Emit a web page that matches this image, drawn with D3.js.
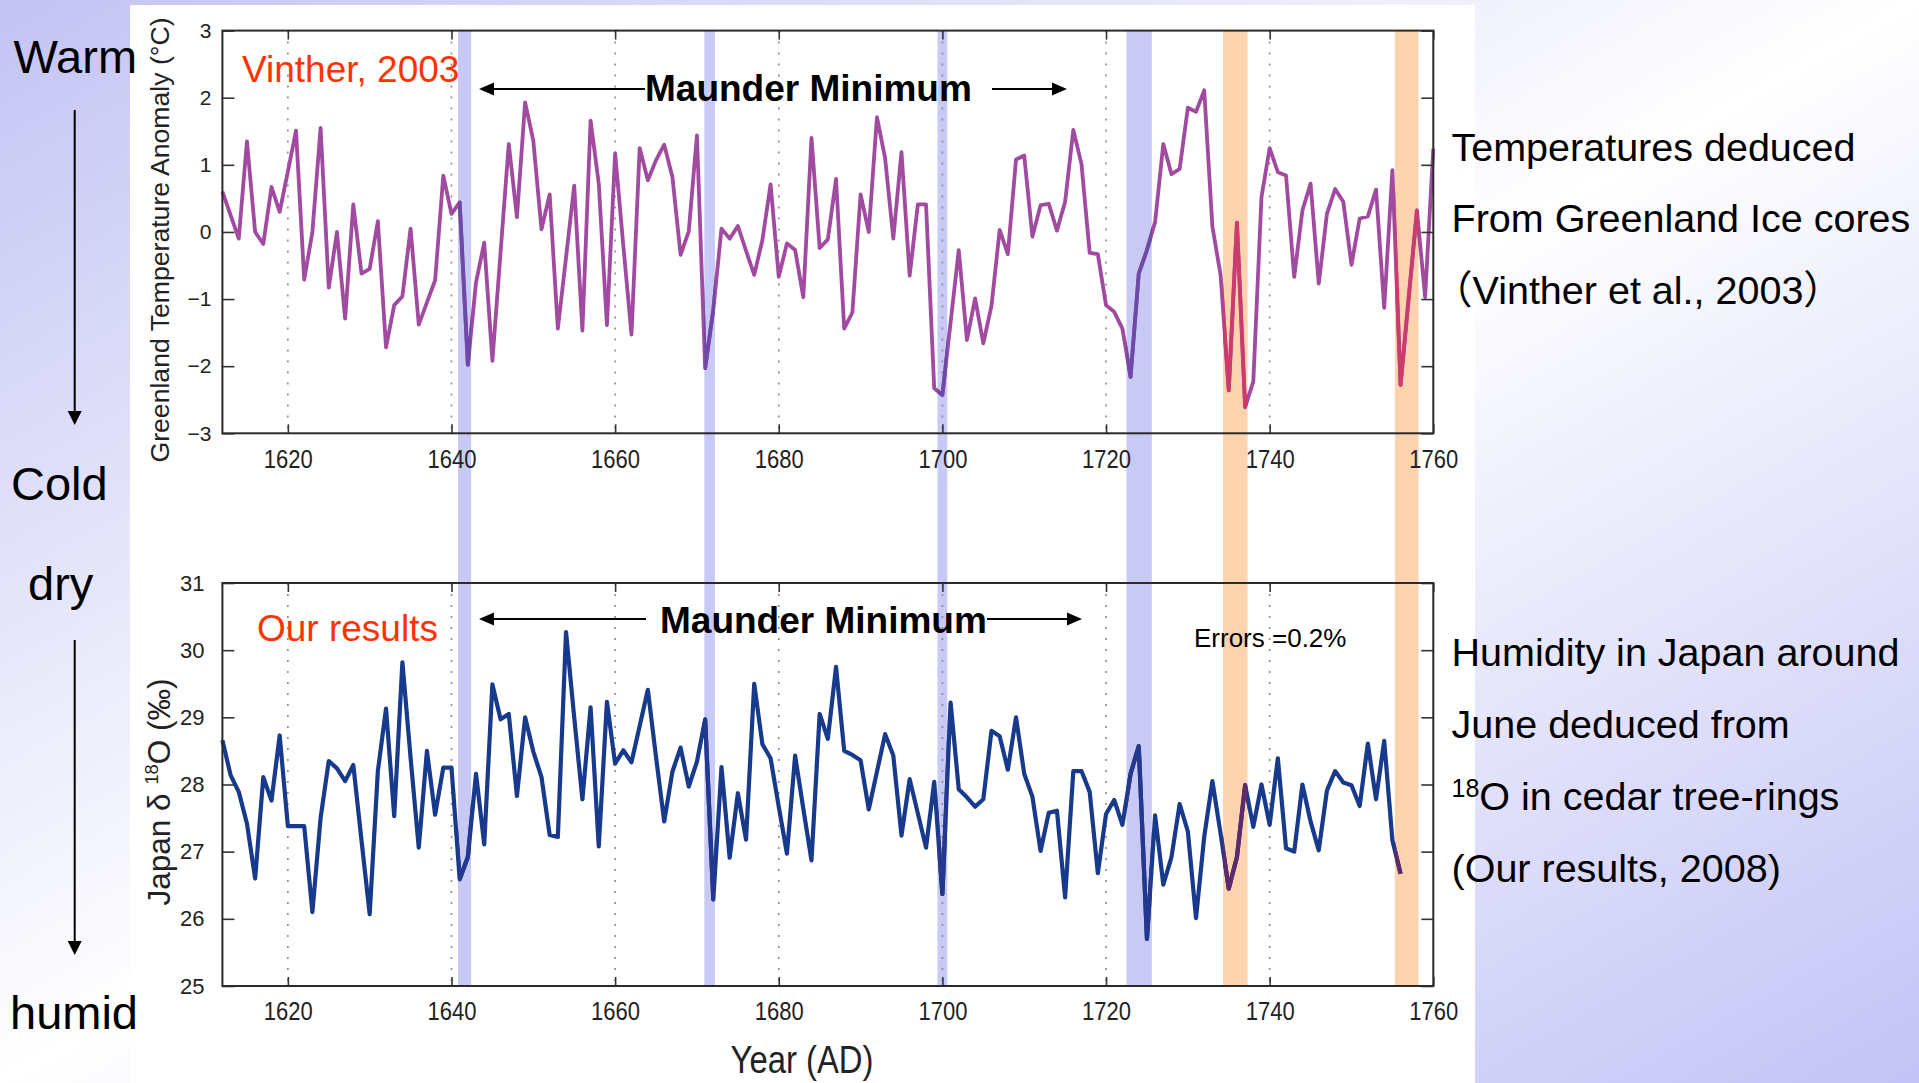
<!DOCTYPE html>
<html><head><meta charset="utf-8">
<script src="https://cdn.jsdelivr.net/npm/d3@7"></script>
<style>
html,body{margin:0;padding:0;background:#fff;overflow:hidden}
svg{display:block}
text{font-family:"Liberation Sans",Arial,"Noto Sans CJK JP",sans-serif}
</style></head><body>
<svg id="chart" width="1919" height="1083"></svg>
<script>
// ---------------- data ----------------
const tempStartYear = 1612;
const tempValues = [
 0.6, 0.25, -0.1, 1.35, 0.0, -0.18, 0.67, 0.3, 0.9, 1.51,
 -0.71, 0.0, 1.55, -0.83, 0.0, -1.29, 0.41, -0.62, -0.55, 0.16,
 -1.72, -1.09, -0.96, 0.05, -1.38, -1.05, -0.72, 0.84, 0.27, 0.44,
 -1.98, -0.75, -0.16, -1.92, -0.3, 1.31, 0.22, 1.93, 1.36, 0.04,
 0.56, -1.44, -0.38, 0.69, -1.47, 1.66, 0.72, -1.39, 1.17, -0.2,
 -1.53, 1.25, 0.77, 1.07, 1.30, 0.82, -0.34, 0.01, 1.44, -2.03,
 -1.16, 0.05, -0.1, 0.09, -0.28, -0.64, -0.12, 0.71, -0.67, -0.17,
 -0.27, -0.97, 1.40, -0.24, -0.11, 0.79, -1.44, -1.2, 0.56, 0.0,
 1.71, 1.1, -0.1, 1.19, -0.65, 0.41, 0.41, -2.33, -2.43, -1.35,
 -0.27, -1.61, -0.99, -1.66, -1.1, 0.03, -0.33, 1.08, 1.14, -0.07,
 0.4, 0.42, 0.02, 0.45, 1.52, 1.01, -0.31, -0.33, -1.09, -1.19,
 -1.44, -2.16, -0.62, -0.27, 0.15, 1.31, 0.86, 0.94, 1.85, 1.79,
 2.11, 0.08, -0.64, -2.36, 0.14, -2.61, -2.23, 0.52, 1.25, 0.89,
 0.84, -0.67, 0.32, 0.72, -0.77, 0.27, 0.64, 0.45, -0.49, 0.2,
 0.23, 0.63, -1.13, 0.92, -2.28, -0.97, 0.32, -0.97, 1.24
];
const isoStartYear = 1612;
const isoValues = [
 28.66, 28.14, 27.89, 27.42, 26.60, 28.11, 27.76, 28.73, 27.38, 27.38,
 27.38, 26.10, 27.5, 28.35, 28.24, 28.05, 28.29, 27.17, 26.07, 28.2,
 29.13, 27.53, 29.82, 28.4, 27.06, 28.5, 27.55, 28.25, 28.25, 26.59,
 26.92, 28.16, 27.11, 29.49, 28.97, 29.05, 27.83, 29.0, 28.49, 28.11,
 27.25, 27.22, 30.27, 29.0, 27.78, 29.15, 27.08, 29.23, 28.31, 28.51,
 28.33, 28.87, 29.41, 28.41, 27.45, 28.19, 28.55, 27.97, 28.34, 28.97,
 26.29, 28.26, 26.91, 27.87, 27.18, 29.5, 28.6, 28.39, 27.67, 26.97,
 28.43, 27.64, 26.87, 29.05, 28.68, 29.75, 28.5, 28.44, 28.36, 27.63,
 28.19, 28.75, 28.43, 27.24, 28.08, 27.57, 27.06, 28.04, 26.37, 29.22,
 27.93, 27.81, 27.67, 27.78, 28.8, 28.72, 28.22, 29.0, 28.16, 27.82,
 27.01, 27.58, 27.61, 26.32, 28.2, 28.2, 27.89, 26.68, 27.56, 27.77,
 27.4, 28.16, 28.57, 25.7, 27.54, 26.51, 26.92, 27.71, 27.3, 26.01,
 27.22, 28.05, 27.27, 26.45, 26.92, 27.99, 27.37, 28.0, 27.4, 28.39,
 27.05, 27.0, 28.0, 27.45, 27.02, 27.91, 28.2, 28.03, 27.99, 27.68,
 28.61, 27.78, 28.65, 27.17, 26.67
];
const xDomain = [1612, 1760];
const xTicks = [1620, 1640, 1660, 1680, 1700, 1720, 1740, 1760];
const gridYears = [1620, 1640, 1660, 1680, 1700, 1720, 1740];
const tempDomain = [-3, 3];
const tempTicks = [-3, -2, -1, 0, 1, 2, 3];
const isoDomain = [25, 31];
const isoTicks = [25, 26, 27, 28, 29, 30, 31];
const coldBands = [[1640.8, 1642.4], [1670.9, 1672.2], [1699.4, 1700.6], [1722.5, 1725.6]];
const warmBands = [[1734.3, 1737.3], [1755.3, 1758.2]];
const sideLabels = ["Warm", "Cold", "dry", "humid"];
const tempNotes = ["Temperatures deduced", "From Greenland Ice cores", "（Vinther et al., 2003）"];
const isoNotes = ["Humidity in Japan around", "June deduced from", "18|O in cedar tree-rings", "(Our results, 2008)"];

// ---------------- layout ----------------
const W = 1919, H = 1083;
const L = 222.4, R = 1433.3;
const T1 = 30.6, B1 = 433.3;
const T2 = 583, B2 = 986;

const svg = d3.select("#chart");
const defs = svg.append("defs");

// background gradient
const grad = defs.append("linearGradient").attr("id", "bg")
  .attr("x1", 0).attr("y1", 0).attr("x2", 1).attr("y2", 1);
grad.append("stop").attr("offset", 0).attr("stop-color", "#c3c3f4");
grad.append("stop").attr("offset", 0.5).attr("stop-color", "#ffffff");
grad.append("stop").attr("offset", 1).attr("stop-color", "#c3c3f6");
svg.append("rect").attr("width", W).attr("height", H).attr("fill", "url(#bg)");
svg.append("rect").attr("x", 130).attr("y", 5).attr("width", 1345).attr("height", H - 5).attr("fill", "#ffffff");

const x = d3.scaleLinear().domain(xDomain).range([L, R]);
const yT = d3.scaleLinear().domain(tempDomain).range([B1, T1]);
const yB = d3.scaleLinear().domain(isoDomain).range([B2, T2]);
const fmtInt = d3.format("d");

// bands spanning both panels
const bandColdFill = "#c9c9f5", bandWarmFill = "#fcd3ae";
svg.append("g").selectAll("rect").data(coldBands).join("rect")
  .attr("x", d => x(d[0])).attr("width", d => x(d[1]) - x(d[0]))
  .attr("y", T1).attr("height", B2 - T1).attr("fill", bandColdFill);
svg.append("g").selectAll("rect").data(warmBands).join("rect")
  .attr("x", d => x(d[0])).attr("width", d => x(d[1]) - x(d[0]))
  .attr("y", T1).attr("height", B2 - T1).attr("fill", bandWarmFill);

// clip paths for bands
function bandClip(id, bands) {
  const cp = defs.append("clipPath").attr("id", id);
  cp.selectAll("rect").data(bands).join("rect")
    .attr("x", d => x(d[0])).attr("width", d => x(d[1]) - x(d[0]))
    .attr("y", 0).attr("height", H);
}
bandClip("clipCold", coldBands);
bandClip("clipWarm", warmBands);

function panel(opts) {
  const { y, top, bottom, startYear, values, ticks, color, coldColor, warmColor, width, labelSize, labelPad } = opts;
  const g = svg.append("g");
  // grid
  g.append("g").selectAll("line").data(gridYears).join("line")
    .attr("x1", d => x(d)).attr("x2", d => x(d))
    .attr("y1", top).attr("y2", bottom)
    .attr("stroke", "#8a8a8a").attr("stroke-width", 1.6).attr("stroke-dasharray", "2,9");
  const data = values.map((v, i) => ({ year: startYear + i, v }));
  const line = d3.line().x(d => x(d.year)).y(d => y(d.v));
  const pathD = line(data);
  g.append("path").attr("d", pathD).attr("fill", "none").attr("stroke", color)
    .attr("stroke-width", width).attr("stroke-linejoin", "round");
  g.append("path").attr("d", pathD).attr("fill", "none").attr("stroke", coldColor)
    .attr("stroke-width", width).attr("stroke-linejoin", "round").attr("clip-path", "url(#clipCold)");
  g.append("path").attr("d", pathD).attr("fill", "none").attr("stroke", warmColor)
    .attr("stroke-width", width).attr("stroke-linejoin", "round").attr("clip-path", "url(#clipWarm)");

  // axes
  const axB = g.append("g").attr("transform", `translate(0,${bottom})`)
    .call(d3.axisBottom(x).tickValues(xTicks).tickFormat(fmtInt).tickSize(-9).tickSizeOuter(0).tickPadding(16));
  const axT = g.append("g").attr("transform", `translate(0,${top})`)
    .call(d3.axisTop(x).tickValues(xTicks).tickSize(-9).tickSizeOuter(0).tickFormat(""));
  const axL = g.append("g").attr("transform", `translate(${L},0)`)
    .call(d3.axisLeft(y).tickValues(ticks).tickFormat(fmtInt).tickSize(-12).tickSizeOuter(0).tickPadding(labelPad));
  const axR = g.append("g").attr("transform", `translate(${R},0)`)
    .call(d3.axisRight(y).tickValues(ticks).tickSize(-12).tickSizeOuter(0).tickFormat(""));
  [axB, axT, axL, axR].forEach(a => {
    a.select(".domain").remove();
    a.selectAll(".tick line").attr("stroke", "#333").attr("stroke-width", 1.6);
  });
  axB.selectAll(".tick text")
    .attr("font-size", 26).attr("fill", "#222").attr("textLength", 49).attr("lengthAdjust", "spacingAndGlyphs");
  axL.selectAll(".tick text")
    .attr("font-size", labelSize).attr("fill", "#222");
  // frame
  g.append("rect").attr("x", L).attr("y", top).attr("width", R - L).attr("height", bottom - top)
    .attr("fill", "none").attr("stroke", "#2a2a2a").attr("stroke-width", 2);
  return g;
}

panel({ y: yT, top: T1, bottom: B1, startYear: tempStartYear, values: tempValues, ticks: tempTicks,
  color: "#a04aa0", coldColor: "#6d4aa8", warmColor: "#cc3a6e", width: 3.8, labelSize: 21, labelPad: 11 });
panel({ y: yB, top: T2, bottom: B2, startYear: isoStartYear, values: isoValues, ticks: isoTicks,
  color: "#183a8c", coldColor: "#25388f", warmColor: "#5e2a6c", width: 4.2, labelSize: 22, labelPad: 18 });

// axis titles
svg.append("text").attr("transform", "translate(169,240) rotate(-90)")
  .attr("text-anchor", "middle").attr("font-size", 25).attr("fill", "#222")
  .attr("textLength", 445).attr("lengthAdjust", "spacingAndGlyphs")
  .text("Greenland Temperature Anomaly (°C)");
const jt = svg.append("text").attr("transform", "translate(170,792) rotate(-90)")
  .attr("text-anchor", "middle").attr("font-size", 31).attr("fill", "#222")
  .attr("textLength", 227).attr("lengthAdjust", "spacingAndGlyphs");
jt.append("tspan").text("Japan  δ ");
jt.append("tspan").attr("font-size", 18).attr("dy", -12).text("18");
jt.append("tspan").attr("dy", 12).text("O (‰)");
svg.append("text").attr("x", 802).attr("y", 1073).attr("text-anchor", "middle")
  .attr("font-size", 38).attr("fill", "#222")
  .attr("textLength", 143).attr("lengthAdjust", "spacingAndGlyphs").text("Year (AD)");

// in-plot annotations
svg.append("text").attr("x", 242).attr("y", 81.5).attr("font-size", 37).attr("fill", "#ff3300").text("Vinther, 2003");
svg.append("text").attr("x", 257).attr("y", 640.5).attr("font-size", 37).attr("fill", "#ff3300").text("Our results");
svg.append("text").attr("x", 1194).attr("y", 647).attr("font-size", 26).attr("fill", "#000").text("Errors =0.2%");

function arrow(x1, x2, y) {
  const dir = Math.sign(x2 - x1);
  svg.append("line").attr("x1", x1).attr("x2", x2 - dir * 10).attr("y1", y).attr("y2", y)
    .attr("stroke", "#000").attr("stroke-width", 2);
  svg.append("path").attr("d", `M${x2},${y} L${x2 - dir * 15},${y - 6.5} L${x2 - dir * 15},${y + 6.5} Z`).attr("fill", "#000");
}
function vArrow(xp, y1, y2) {
  svg.append("line").attr("x1", xp).attr("x2", xp).attr("y1", y1).attr("y2", y2 - 10)
    .attr("stroke", "#000").attr("stroke-width", 2);
  svg.append("path").attr("d", `M${xp},${y2} L${xp - 7},${y2 - 14} L${xp + 7},${y2 - 14} Z`).attr("fill", "#000");
}
svg.append("text").attr("x", 645).attr("y", 101).attr("font-size", 37).attr("font-weight", "bold").attr("fill", "#000").text("Maunder Minimum");
arrow(645, 479, 89);
arrow(992, 1067, 89);
svg.append("text").attr("x", 660).attr("y", 633).attr("font-size", 37).attr("font-weight", "bold").attr("fill", "#000").text("Maunder Minimum");
arrow(646, 479, 619);
arrow(987, 1082, 619);

// left side labels
const sidePos = [[13.5, 73], [11, 500], [28, 600], [10, 1029]];
svg.append("g").selectAll("text").data(sideLabels).join("text")
  .attr("x", (d, i) => sidePos[i][0]).attr("y", (d, i) => sidePos[i][1])
  .attr("font-size", 47).attr("fill", "#000").text(d => d);
vArrow(74.7, 110, 425);
vArrow(74.7, 640, 955);

// right side notes
const tempNoteY = [161, 232, 304];
svg.append("g").selectAll("text").data(tempNotes).join("text")
  .attr("x", (d, i) => i === 2 ? 1433 : 1451.5).attr("y", (d, i) => tempNoteY[i])
  .attr("font-size", 39.5).attr("fill", "#000").text(d => d);
const isoNoteY = [666, 738, 810, 882];
const ig = svg.append("g");
isoNotes.forEach((s, i) => {
  const t = ig.append("text").attr("x", 1451.5).attr("y", isoNoteY[i]).attr("font-size", 39.5).attr("fill", "#000");
  if (s.includes("|")) {
    const [sup, rest] = s.split("|");
    t.append("tspan").attr("font-size", 25).attr("dy", -13).text(sup);
    t.append("tspan").attr("dy", 13).text(rest);
  } else {
    t.text(s);
  }
});
</script>
</body></html>
